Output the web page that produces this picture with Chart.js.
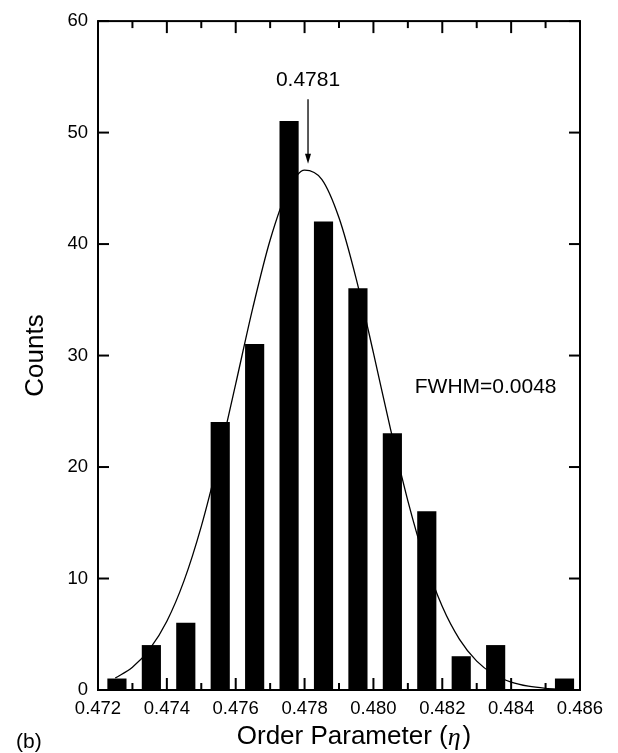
<!DOCTYPE html>
<html>
<head>
<meta charset="utf-8">
<script src="https://cdn.jsdelivr.net/npm/chart.js@4.4.1/dist/chart.umd.min.js"></script>
<style>
  html, body { margin: 0; padding: 0; background: #fff; }
  #wrap { position: relative; width: 618px; height: 753px; }
</style>
</head>
<body>
<div id="wrap"><canvas id="c" width="618" height="753"></canvas></div>
<script>
// ---- data ----
const binCenters = [0.47255, 0.47355, 0.47455, 0.47555, 0.47655, 0.47755, 0.47855,
                    0.47955, 0.48055, 0.48155, 0.48255, 0.48355, 0.48455, 0.48555];
const counts     = [1, 4, 6, 24, 31, 51, 42, 36, 23, 16, 3, 4, 0, 1];

const fitX = [0.4725, 0.4730, 0.4735, 0.4740, 0.4745, 0.4750, 0.4755, 0.4760, 0.4765,
              0.4770, 0.4775, 0.4780, 0.4785, 0.4790, 0.4795, 0.4800, 0.4805, 0.4810,
              0.4815, 0.4820, 0.4825, 0.4830, 0.4835, 0.4840, 0.4845, 0.4850, 0.4855];
const fitY = [1.07, 2.04, 3.66, 6.17, 9.81, 14.68, 20.69, 27.46, 34.32,
              40.37, 44.72, 46.64, 45.81, 42.36, 36.88, 30.24, 23.35, 16.97,
              11.61, 7.48, 4.54, 2.59, 1.39, 0.71, 0.34, 0.15, 0.06];

const xMajorTicks = [0.472, 0.474, 0.476, 0.478, 0.480, 0.482, 0.484, 0.486];
const xMinorTicks = [0.473, 0.475, 0.477, 0.479, 0.481, 0.483, 0.485];
const yTicks      = [0, 10, 20, 30, 40, 50, 60];

const peakLabel = '0.4781';
const peakX = 0.4781, peakTextY = 54.7, arrowTopY = 53.0, arrowTipY = 47.2;
const fwhmLabel = 'FWHM=0.0048';
const fwhmX = 0.4812, fwhmY = 27.2;

const xTitle = ['Order Parameter (', 'η', ')'];
const yTitle = 'Counts';
const panelLabel = '(b)';

const FONT = '"Liberation Sans", Arial, Helvetica, sans-serif';

const decor = {
  id: 'decor',
  afterDraw(chart) {
    const { ctx, chartArea: { left, right, top, bottom }, scales: { x, y } } = chart;
    ctx.save();
    ctx.strokeStyle = '#000';
    ctx.fillStyle = '#000';
    ctx.lineWidth = 2;
    ctx.lineCap = 'butt';
    ctx.strokeRect(left, top, right - left, bottom - top);
    const seg = (x1, y1, x2, y2) => { ctx.beginPath(); ctx.moveTo(x1, y1); ctx.lineTo(x2, y2); ctx.stroke(); };
    xMajorTicks.forEach(v => { const p = x.getPixelForValue(v); seg(p, bottom, p, bottom - 12); seg(p, top, p, top + 12); });
    xMinorTicks.forEach(v => { const p = x.getPixelForValue(v); seg(p, bottom, p, bottom - 7); seg(p, top, p, top + 7); });
    yTicks.forEach(v => { const p = y.getPixelForValue(v); seg(left, p, left + 11, p); seg(right, p, right - 11, p); });

    // peak annotation
    const ax = x.getPixelForValue(peakX);
    ctx.font = '21px ' + FONT;
    ctx.textAlign = 'center';
    ctx.textBaseline = 'middle';
    ctx.fillText(peakLabel, ax, y.getPixelForValue(peakTextY));
    const y1 = y.getPixelForValue(arrowTopY), y2 = y.getPixelForValue(arrowTipY);
    ctx.lineWidth = 1.3;
    seg(ax, y1, ax, y2 - 8);
    ctx.beginPath();
    ctx.moveTo(ax, y2);
    ctx.lineTo(ax - 3, y2 - 10);
    ctx.lineTo(ax + 3, y2 - 10);
    ctx.closePath();
    ctx.fill();

    // FWHM
    ctx.textAlign = 'left';
    ctx.fillText(fwhmLabel, x.getPixelForValue(fwhmX), y.getPixelForValue(fwhmY));

    // x title with italic eta
    ctx.textBaseline = 'middle';
    const f1 = '26px ' + FONT, f2 = 'italic 26px "Liberation Serif", "Times New Roman", serif';
    ctx.font = f1; const w1 = ctx.measureText(xTitle[0]).width; const w3 = ctx.measureText(xTitle[2]).width;
    ctx.font = f2; const w2 = ctx.measureText(xTitle[1]).width;
    const total = w1 + w2 + w3 + 2;
    let tx = (left + right) / 2 + 15 - total / 2;
    const ty = 737;
    ctx.textAlign = 'left';
    ctx.font = f1; ctx.fillText(xTitle[0], tx, ty); tx += w1;
    ctx.font = f2; ctx.fillText(xTitle[1], tx, ty + 1); tx += w2 + 2;
    ctx.font = f1; ctx.fillText(xTitle[2], tx, ty);

    // panel label
    ctx.font = '21px ' + FONT;
    ctx.fillText(panelLabel, 16, 742);
    ctx.restore();
  }
};

new Chart(document.getElementById('c'), {
  type: 'bar',
  data: {
    datasets: [
      {
        type: 'line',
        data: fitX.map((v, i) => ({ x: v, y: fitY[i] })),
        borderColor: '#000',
        borderWidth: 1.3,
        pointRadius: 0,
        cubicInterpolationMode: 'monotone',
        fill: false,
        order: 0
      },
      {
        type: 'bar',
        data: binCenters.map((v, i) => ({ x: v, y: counts[i] })),
        backgroundColor: '#000',
        borderWidth: 0,
        barThickness: 18.5,
        order: 1
      }
    ]
  },
  plugins: [decor],
  options: {
    responsive: false,
    animation: false,
    events: [],
    layout: { padding: { top: 17, right: 38, left: 0, bottom: 0 } },
    plugins: { legend: { display: false }, tooltip: { enabled: false } },
    scales: {
      x: {
        type: 'linear',
        min: 0.472, max: 0.486,
        offset: false,
        afterBuildTicks: s => { s.ticks = xMajorTicks.map(v => ({ value: v })); },
        afterFit: s => { s.height = 63; },
        grid: { display: false, drawTicks: false },
        border: { display: false },
        ticks: {
          padding: 8,
          maxRotation: 0,
          autoSkip: false,
          color: '#000',
          font: { family: FONT, size: 18.5 },
          callback: v => Number(v).toFixed(3)
        }
      },
      y: {
        min: 0, max: 60,
        afterBuildTicks: s => { s.ticks = yTicks.map(v => ({ value: v })); },
        afterFit: s => { s.width = 98; },
        grid: { display: false, drawTicks: false },
        border: { display: false },
        ticks: {
          padding: 10,
          color: '#000',
          font: { family: FONT, size: 18.5 },
          callback: v => String(v)
        },
        title: {
          display: true,
          text: yTitle,
          color: '#000',
          font: { family: FONT, size: 26 },
          padding: { top: 20, bottom: 0 }
        }
      }
    }
  }
});
</script>
</body>
</html>
